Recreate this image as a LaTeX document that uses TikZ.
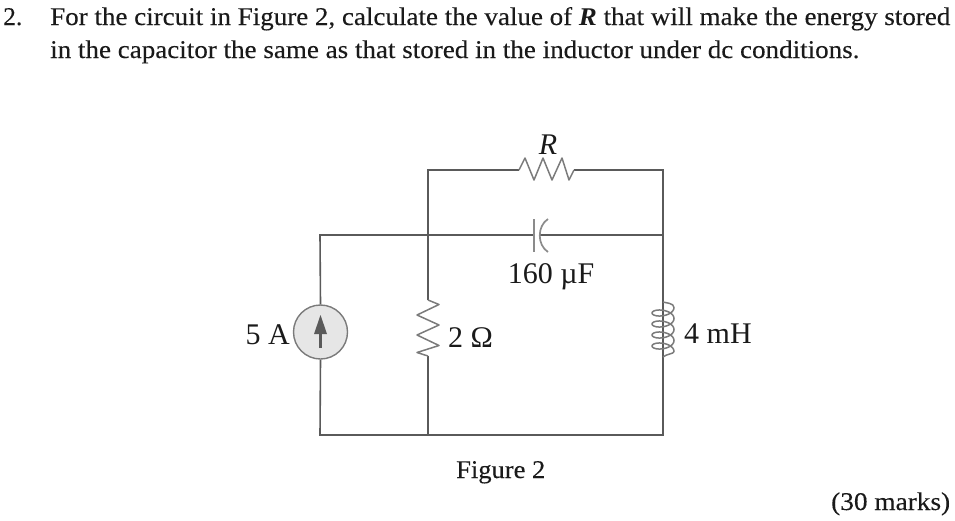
\documentclass[tikz,border=0pt]{standalone}
\usepackage{fontspec}
\setmainfont{Liberation Serif}
\newfontfamily\heavyserif[FakeBold=0.25]{Liberation Serif}
\usetikzlibrary{arrows.meta}
\definecolor{wire}{HTML}{5A5A5A}
\definecolor{srcfill}{HTML}{E6E6E6}
\definecolor{srcedge}{HTML}{7A7A7A}
\definecolor{ink}{HTML}{1A1A1A}
\tikzset{
  wireline/.style={draw=wire,line width=1.6pt,line join=miter},
  symline/.style={draw=wire!80,line width=1.5pt,line join=round},
  bodytext/.style={anchor=base west,inner sep=0pt,text=ink,font=\heavyserif\fontsize{25.5}{28}\selectfont},
  circlabel/.style={anchor=base,inner sep=0pt,text=ink,font=\fontsize{30}{33}\selectfont},
  sourcebody/.style={circle,minimum size=54pt,inner sep=0pt,fill=srcfill,draw=srcedge,line width=1.4pt}
}
\begin{document}
\begin{tikzpicture}[x=1pt,y=-1pt]
\useasboundingbox (0,0) rectangle (955,520);
% text
\node[bodytext] (num) at (3,25) {2.};
\node[bodytext] (l1) at (50,25) {\scalebox{1.059}[1]{For the circuit in Figure 2, calculate the value of {\normalfont\fontsize{25.5}{28}\selectfont\textbf{\textit{R}}} that will make the energy stored}};
\node[bodytext] (l2) at (50,58) {\scalebox{1.06}[1]{in the capacitor the same as that stored in the inductor under dc conditions.}};
\node[bodytext] (fig) at (456,478) {\scalebox{1.04}[1]{Figure 2}};
\node[bodytext] (marks) at (831,510) {\scalebox{1.07}[1]{(30 marks)}};
% junctions
\coordinate (tl) at (428,170);
\coordinate (tr) at (663,170);
\coordinate (cl) at (320,235);
\coordinate (cj) at (428,235);
\coordinate (cr) at (663,235);
\coordinate (bl) at (320,435);
\coordinate (bj) at (428,435);
\coordinate (br) at (663,435);
\coordinate (rin) at (519,170);
\coordinate (rout) at (574,170);
\coordinate (capa) at (534,235);
\coordinate (capb) at (540,235);
\coordinate (r2a) at (428,300);
\coordinate (r2b) at (428,356);
\coordinate (la) at (663,302);
\coordinate (lb) at (663,357);
\node[sourcebody] (src) at (320.5,332) {};
% wires
\draw[wireline] (rin) -- (tl) -- (cj);
\draw[wireline] (rout) -- (tr) -- (br) -- (bl) -- (src.south);
\draw[wireline] (src.north) -- (cl) -- (capa);
\draw[wireline] (capb) -- (cr);
\draw[wireline] (cj) -- (r2a);
\draw[wireline] (r2b) -- (bj);
\draw[wireline] (la) -- (lb |- tr);
\draw[wireline] (lb) -- (br);
% resistor R
\draw[symline] (rin) -- (525,158) -- (534,180) -- (543,158) -- (552,180) -- (562,158) -- (569,180) -- (rout);
% resistor 2 ohm
\draw[symline] (r2a) -- ++(11,4.5) -- ++(-22,10.5) -- ++(22,10) -- ++(-22,10) -- ++(22,10.5) -- ++(-22,7) -- (r2b);
% capacitor
\draw[draw=wire!70,line width=1.7pt] (534,219) -- (534,252);
\draw[draw=wire!70,line width=1.7pt] (548,219) .. controls (537,226) and (537,245) .. (548,252);
% inductor
\draw[symline] (la) .. controls (666,303) and (674,303) .. (674,307.5)
  -- plot[smooth,samples=145,domain=0:1440,variable=\t] ({663+11*cos(\t)},{307.5+11*\t/360+5.5*sin(\t)})
  .. controls (674,354) and (666,354) .. (lb);
% source arrow
\draw[draw=wire,line width=2.2pt] (320.5,348) -- (320.5,328);
\fill[wire] (320.5,315) -- (327,334) -- (314,334) -- cycle;
% labels
\node[circlabel] (lr) at (548,154) {\textit{R}};
\node[circlabel] (lc) at (551,283) {160 µF};
\node[circlabel,anchor=base east] (ls) at (290,344) {5 A};
\node[circlabel,anchor=base west] (lo) at (448,347) {2 Ω};
\node[circlabel,anchor=base west] (ll) at (684,343) {4 mH};
\end{tikzpicture}
\end{document}
